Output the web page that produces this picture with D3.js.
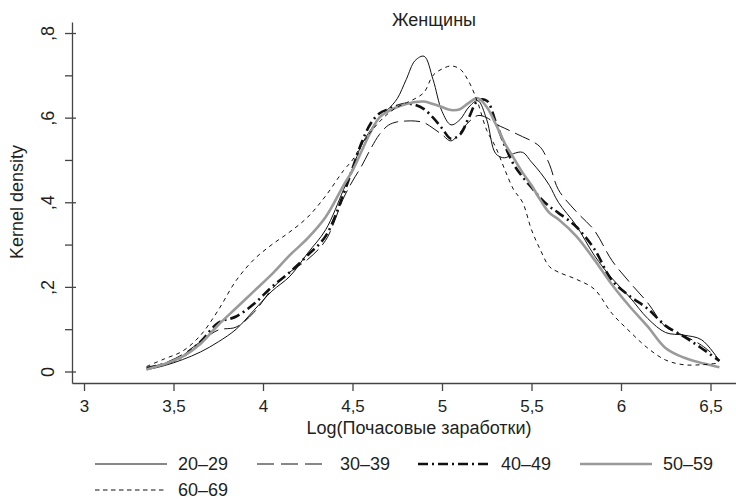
<!DOCTYPE html>
<html>
<head>
<meta charset="utf-8">
<script src="https://cdn.jsdelivr.net/npm/d3@7"></script>
<style>
  body { margin: 0; background: #fff; }
  svg { display: block; font-family: "Liberation Sans", Arial, sans-serif; }
  text { fill: #231f20; }
</style>
</head>
<body>
<svg id="chart" width="736" height="499"></svg>
<script>
// values
const ageGroups = ["20–29", "30–39", "40–49", "50–59", "60–69"];
const logWage = [3.35, 3.45, 3.55, 3.65, 3.75, 3.85, 3.95, 4.05, 4.15, 4.25, 4.35, 4.45,
  4.5, 4.55, 4.6, 4.65, 4.7, 4.75, 4.8, 4.85, 4.9, 4.95, 5.0, 5.05, 5.1, 5.15, 5.2, 5.25,
  5.3, 5.35, 5.4, 5.45, 5.5, 5.55, 5.6, 5.65, 5.75, 5.85, 5.95, 6.05, 6.15, 6.25, 6.35, 6.45, 6.55];
const dens20_29 = [0.004, 0.014, 0.028, 0.046, 0.07, 0.1, 0.145, 0.19, 0.225, 0.28, 0.335, 0.43,
  0.48, 0.535, 0.57, 0.60, 0.62, 0.645, 0.69, 0.735, 0.745, 0.69, 0.615, 0.583, 0.595, 0.625, 0.64, 0.595,
  0.515, 0.505, 0.515, 0.518, 0.495, 0.47, 0.44, 0.40, 0.345, 0.275, 0.22, 0.175, 0.125, 0.092, 0.086, 0.075, 0.025];
const dens30_39 = [0.008, 0.02, 0.04, 0.07, 0.098, 0.105, 0.14, 0.195, 0.235, 0.265, 0.31, 0.41,
  0.45, 0.485, 0.525, 0.56, 0.582, 0.59, 0.592, 0.592, 0.588, 0.575, 0.56, 0.545, 0.565, 0.59, 0.605, 0.60,
  0.585, 0.575, 0.565, 0.555, 0.545, 0.53, 0.49, 0.43, 0.378, 0.334, 0.262, 0.21, 0.162, 0.105, 0.085, 0.062, 0.027];
const dens40_49 = [0.008, 0.018, 0.035, 0.07, 0.115, 0.13, 0.16, 0.2, 0.235, 0.275, 0.32, 0.42,
  0.48, 0.54, 0.585, 0.61, 0.62, 0.628, 0.633, 0.63, 0.62, 0.60, 0.575, 0.55, 0.56, 0.60, 0.64, 0.64,
  0.59, 0.535, 0.49, 0.46, 0.435, 0.41, 0.39, 0.375, 0.342, 0.29, 0.215, 0.178, 0.148, 0.108, 0.083, 0.055, 0.025];
const dens50_59 = [0.005, 0.018, 0.035, 0.065, 0.11, 0.15, 0.19, 0.23, 0.275, 0.315, 0.365, 0.44,
  0.475, 0.52, 0.565, 0.60, 0.615, 0.625, 0.632, 0.637, 0.638, 0.632, 0.625, 0.618, 0.62, 0.635, 0.646, 0.625,
  0.585, 0.54, 0.505, 0.47, 0.44, 0.405, 0.375, 0.36, 0.32, 0.265, 0.205, 0.153, 0.106, 0.055, 0.033, 0.02, 0.01];
const dens60_69 = [0.012, 0.03, 0.048, 0.085, 0.145, 0.215, 0.265, 0.30, 0.33, 0.365, 0.415, 0.475,
  0.50, 0.535, 0.565, 0.59, 0.61, 0.625, 0.635, 0.645, 0.66, 0.70, 0.715, 0.722, 0.715, 0.685, 0.635, 0.57,
  0.53, 0.478, 0.43, 0.40, 0.335, 0.287, 0.248, 0.235, 0.218, 0.195, 0.137, 0.094, 0.055, 0.027, 0.016, 0.016, 0.02];
const xTicks = [3, 3.5, 4, 4.5, 5, 5.5, 6, 6.5];
const yTicks = [0, 0.2, 0.4, 0.6, 0.8];
const yMinorTicks = [0.1, 0.3, 0.5, 0.7];

const series = [dens20_29, dens30_39, dens40_49, dens50_59, dens60_69];

// line looks, same order as ageGroups
const looks = [
  { color: "#111", width: 1, dash: null, legendDash: null },
  { color: "#111", width: 1, dash: "16,6", legendDash: "17,7" },
  { color: "#111", width: 2.6, dash: "10,4,2,4", legendDash: "10,4,2,4" },
  { color: "#9a9a9a", width: 2.6, dash: null, legendDash: null },
  { color: "#111", width: 1, dash: "4,4", legendDash: "4.5,3.5" }
];

const svg = d3.select("#chart");

// axes span the full plot box
const x = d3.scaleLinear().domain([3 - 12 / 179, 3 + 652 / 179]).range([72, 736]);
const y = d3.scaleLinear().domain([-11.5 / 423.1, 349.5 / 423.1]).range([383, 22]);

const comma = d => String(d).replace(".", ",");

// x axis
const gx = svg.append("g")
  .attr("transform", "translate(0,383)")
  .call(d3.axisBottom(x).tickValues(xTicks).tickSizeInner(8).tickSizeOuter(0).tickFormat(comma));
gx.selectAll("text").attr("dy", null).attr("y", 29).style("font-size", "17px");

// y axis, labels turned on their side
const gy = svg.append("g")
  .attr("transform", "translate(72,0)")
  .call(d3.axisLeft(y).tickValues(yTicks).tickSizeInner(7).tickSizeOuter(0)
    .tickFormat(d => d === 0 ? "0" : "," + Math.round(d * 10)));
gy.selectAll(".tick line").attr("x1", 4);
gy.selectAll("text")
  .attr("x", null).attr("dy", null)
  .attr("text-anchor", "middle")
  .attr("transform", "translate(-18,0) rotate(-90)")
  .style("font-size", "18px");

svg.append("g")
  .attr("transform", "translate(72,0)")
  .call(d3.axisLeft(y).tickValues(yMinorTicks).tickSizeInner(7).tickSizeOuter(0).tickFormat(""))
  .select(".domain").remove();

svg.selectAll(".domain, .tick line").attr("stroke", "#444").attr("stroke-width", 1.3);

// titles
svg.append("text").attr("x", 434).attr("y", 26).attr("text-anchor", "middle")
  .style("font-size", "18px").text("Женщины");
svg.append("text").attr("x", 419).attr("y", 434).attr("text-anchor", "middle")
  .style("font-size", "18px").text("Log(Почасовые заработки)");
svg.append("text").attr("transform", "translate(23,202) rotate(-90)").attr("text-anchor", "middle")
  .style("font-size", "18px").text("Kernel density");

// density curves
const line = d3.line()
  .x((d, i) => x(logWage[i]))
  .y(d => y(d))
  .curve(d3.curveCatmullRom.alpha(0.5));

svg.append("g").selectAll("path")
  .data(series)
  .join("path")
  .attr("d", d => line(d))
  .attr("fill", "none")
  .attr("stroke", (d, i) => looks[i].color)
  .attr("stroke-width", (d, i) => looks[i].width)
  .attr("stroke-dasharray", (d, i) => looks[i].dash);

// legend
const legendPos = [[95, 464], [257, 464], [418, 464], [580, 464], [95, 490]];
const legend = svg.append("g").selectAll("g")
  .data(ageGroups)
  .join("g")
  .attr("transform", (d, i) => `translate(${legendPos[i][0]},${legendPos[i][1]})`);
legend.append("line")
  .attr("x1", 0).attr("x2", 72)
  .attr("stroke", (d, i) => looks[i].color)
  .attr("stroke-width", (d, i) => looks[i].width)
  .attr("stroke-dasharray", (d, i) => looks[i].legendDash);
legend.append("text")
  .attr("x", 83).attr("y", 6)
  .style("font-size", "18px")
  .text(d => d);
</script>
</body>
</html>
